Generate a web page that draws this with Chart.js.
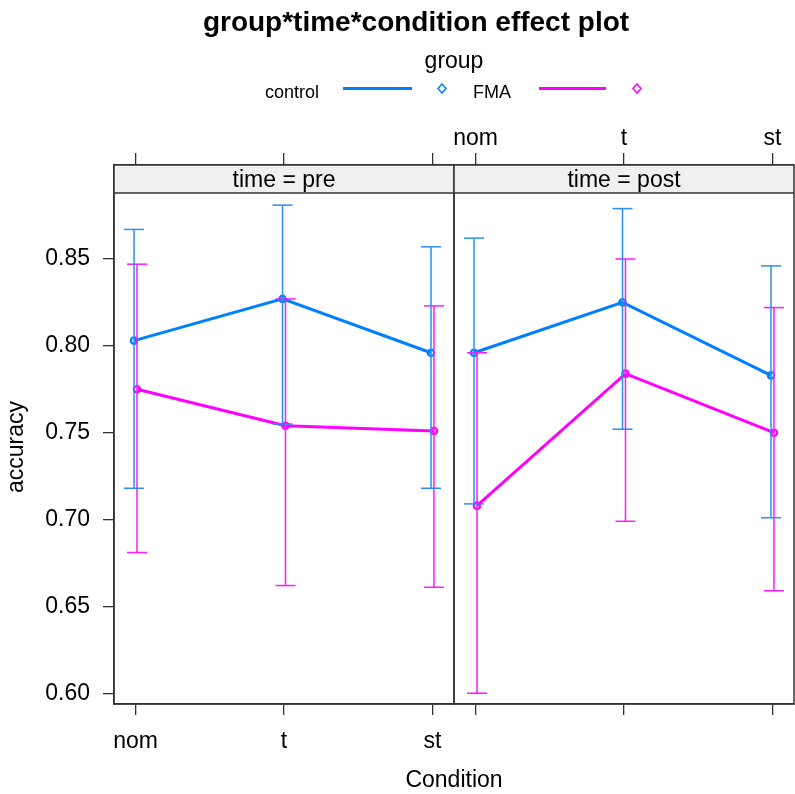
<!DOCTYPE html>
<html>
<head>
<meta charset="utf-8">
<title>group*time*condition effect plot</title>
<script src="https://cdn.jsdelivr.net/npm/chart.js@4.4.1/dist/chart.umd.min.js"></script>
<style>
  html, body { margin: 0; padding: 0; background: #fff; }
  #wrap { width: 795px; height: 794px; }
</style>
</head>
<body>
<div id="wrap"><canvas id="effectPlot" width="795" height="794"></canvas></div>
<script>
// Categories and panels
const conditions = ['nom', 't', 'st'];
const groups = ['control', 'FMA'];
const timeLevels = ['pre', 'post'];

// Tick labels on the accuracy axis
const accuracyTicks = [0.60, 0.65, 0.70, 0.75, 0.80, 0.85];

// Fitted accuracy and confidence limits
const preControlFit = [0.803, 0.827, 0.796];
const preControlLower = [0.718, 0.755, 0.718];
const preControlUpper = [0.867, 0.881, 0.857];
const preFmaFit = [0.775, 0.754, 0.751];
const preFmaLower = [0.681, 0.662, 0.661];
const preFmaUpper = [0.847, 0.827, 0.823];

const postControlFit = [0.796, 0.825, 0.783];
const postControlLower = [0.709, 0.752, 0.701];
const postControlUpper = [0.862, 0.879, 0.846];
const postFmaFit = [0.708, 0.784, 0.750];
const postFmaLower = [0.600, 0.699, 0.659];
const postFmaUpper = [0.796, 0.850, 0.822];

// Styling
const fontFamily = '"Liberation Sans", Arial, sans-serif';
const frameColor = '#333';
const groupColors = { control: '#0080ff', FMA: '#ff00ff' };
const barColors = { control: '#2b8ff0', FMA: '#ff1aff' };
const dodge = { control: -0.01, FMA: 0.01 };   // small side shift like the R plot
const stripHeight = 28;

// Axis limits (y top runs up to the strip top)
const xMin = 0.855, xMax = 3.145;
const yMin = 0.5938, yMax = 0.9041;

Chart.defaults.font.family = fontFamily;
Chart.defaults.color = '#000';

function fitLine(fit, group, axis) {
    return {
        label: group,
        xAxisID: axis,
        yAxisID: 'y',
        data: fit.map((v, i) => ({ x: i + 1 + dodge[group], y: v })),
        borderColor: groupColors[group],
        borderWidth: 3,
        pointRadius: 3.2,
        pointBorderWidth: 2.2,
        pointBorderColor: groupColors[group],
        pointBackgroundColor: 'rgba(0,0,0,0)',
        order: 1
    };
}

// One dataset per group and panel: vertical segments split by null points, caps drawn as 'line' points
function errorBars(lower, upper, group, axis) {
    const pts = [];
    lower.forEach((lo, i) => {
        const x = i + 1 + dodge[group];
        pts.push({ x: x, y: lo }, { x: x, y: upper[i] }, { x: x, y: null });
    });
    return {
        label: group + ' CI',
        xAxisID: axis,
        yAxisID: 'y',
        data: pts,
        spanGaps: false,
        borderColor: barColors[group],
        borderWidth: 1.5,
        pointStyle: 'line',
        pointRadius: 10,
        pointBorderWidth: 1.5,
        pointBorderColor: barColors[group],
        order: 0
    };
}

const categoryTicks = scale => { scale.ticks = conditions.map((c, i) => ({ value: i + 1 })); };
const categoryLabel = v => conditions[Math.round(v) - 1];
const tickGrid = len => ({ drawOnChartArea: false, drawTicks: true, tickLength: len, color: frameColor, lineWidth: 1.3 });
const frameBorder = { color: frameColor, width: 1.5 };

function xAxis(position, stack, showLabels, boxSize, tickLen, pad) {
    return {
        type: 'linear',
        position: position,
        stack: stack,
        min: xMin,
        max: xMax,
        afterBuildTicks: categoryTicks,
        afterFit: s => {
            // panels fill the full width, no room kept for edge labels
            s.height = boxSize;
            s.paddingLeft = 0;
            s.paddingRight = 0;
        },
        ticks: { display: showLabels, callback: categoryLabel, padding: pad, font: { size: 23 }, color: '#000', maxRotation: 0 },
        grid: tickGrid(tickLen),
        border: frameBorder
    };
}

// Strips, panel frames, title, legend and axis titles
const latticeDecor = {
    id: 'latticeDecor',
    afterDraw(chart) {
        const { ctx, chartArea, scales } = chart;
        const top = chartArea.top, bottom = chartArea.bottom;
        ctx.save();
        ['xPre', 'xPost'].forEach((id, k) => {
            const left = scales[id].left, right = scales[id].right;
            ctx.fillStyle = '#f0f0f0';
            ctx.fillRect(left, top, right - left, stripHeight);
            ctx.strokeStyle = frameColor;
            ctx.lineWidth = 1.5;
            ctx.strokeRect(left, top, right - left, bottom - top);
            ctx.beginPath();
            ctx.moveTo(left, top + stripHeight);
            ctx.lineTo(right, top + stripHeight);
            ctx.stroke();
            ctx.fillStyle = '#000';
            ctx.font = '23px ' + fontFamily;
            ctx.textAlign = 'center';
            ctx.textBaseline = 'alphabetic';
            ctx.fillText('time = ' + timeLevels[k], (left + right) / 2, top + stripHeight - 6);
        });

        // title
        ctx.fillStyle = '#000';
        ctx.textAlign = 'center';
        ctx.font = 'bold 28px ' + fontFamily;
        ctx.fillText('group*time*condition effect plot', 416, 31);

        // legend
        ctx.font = '23px ' + fontFamily;
        ctx.fillText('group', 454, 68);
        ctx.font = '18px ' + fontFamily;
        ctx.textAlign = 'left';
        const rows = [
            { g: groups[0], tx: 265, l0: 343, l1: 412, d: 442 },
            { g: groups[1], tx: 473, l0: 539, l1: 606, d: 637 }
        ];
        rows.forEach(r => {
            ctx.fillStyle = '#000';
            ctx.fillText(r.g, r.tx, 98);
            ctx.strokeStyle = groupColors[r.g];
            ctx.lineWidth = 3;
            ctx.beginPath();
            ctx.moveTo(r.l0, 88.5);
            ctx.lineTo(r.l1, 88.5);
            ctx.stroke();
            ctx.lineWidth = 1.5;
            ctx.beginPath();
            ctx.moveTo(r.d, 84);
            ctx.lineTo(r.d + 4, 88.5);
            ctx.lineTo(r.d, 93);
            ctx.lineTo(r.d - 4, 88.5);
            ctx.closePath();
            ctx.stroke();
        });

        // axis titles
        ctx.fillStyle = '#000';
        ctx.font = '23px ' + fontFamily;
        ctx.textAlign = 'center';
        ctx.fillText('Condition', (chartArea.left + chartArea.right) / 2, 787);
        ctx.translate(17, 447);
        ctx.rotate(-Math.PI / 2);
        ctx.textBaseline = 'middle';
        ctx.fillText('accuracy', 0, 0);
        ctx.restore();
    }
};

new Chart(document.getElementById('effectPlot'), {
    type: 'line',
    data: {
        datasets: [
            fitLine(preControlFit, 'control', 'xPre'),
            fitLine(preFmaFit, 'FMA', 'xPre'),
            fitLine(postControlFit, 'control', 'xPost'),
            fitLine(postFmaFit, 'FMA', 'xPost'),
            errorBars(preControlLower, preControlUpper, 'control', 'xPre'),
            errorBars(preFmaLower, preFmaUpper, 'FMA', 'xPre'),
            errorBars(postControlLower, postControlUpper, 'control', 'xPost'),
            errorBars(postFmaLower, postFmaUpper, 'FMA', 'xPost')
        ]
    },
    options: {
        responsive: false,
        animation: false,
        events: [],
        // the 10px error-bar caps would otherwise reserve space on the right
        layout: { autoPadding: false, padding: { right: 1 } },
        plugins: { legend: { display: false }, tooltip: { enabled: false } },
        scales: {
            y: {
                type: 'linear',
                position: 'left',
                min: yMin,
                max: yMax,
                afterBuildTicks: s => { s.ticks = accuracyTicks.map(v => ({ value: v })); },
                afterFit: s => { s.width = 114; },
                ticks: { callback: v => v.toFixed(2), padding: 13, font: { size: 23 }, color: '#000' },
                grid: tickGrid(11),
                border: frameBorder
            },
            xPre: xAxis('bottom', 'bottomRow', true, 90, 11, 13),
            xPost: xAxis('bottom', 'bottomRow', false, 90, 11, 13),
            // top boxes are laid out in reverse order, so the right panel comes first here
            xPostTop: xAxis('top', 'topRow', true, 165, 12, 1),
            xPreTop: xAxis('top', 'topRow', false, 165, 12, 1)
        }
    },
    plugins: [latticeDecor]
});
</script>
</body>
</html>
